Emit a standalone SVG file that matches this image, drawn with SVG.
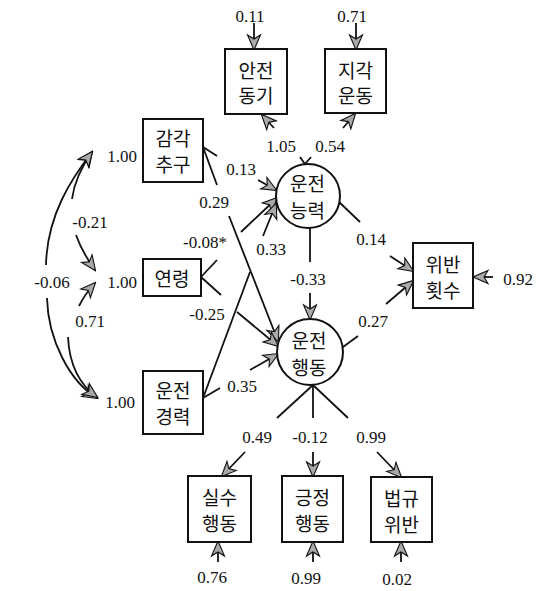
<svg xmlns="http://www.w3.org/2000/svg" width="543" height="591" viewBox="0 0 543 591">
  <defs>
    <style>
      .box{fill:#fff;stroke:#111;stroke-width:2}
      .lat{fill:#fff;stroke:#111;stroke-width:2}
      .kr{font-family:"Noto Sans CJK KR","Noto Sans",sans-serif;font-size:19px;fill:#111;text-anchor:middle;dominant-baseline:central}
      .num{font-family:"Liberation Serif","Times New Roman",serif;font-size:17px;fill:#111;text-anchor:middle}
      .c{fill:none;stroke:#111;stroke-width:1.8}
      .a{marker-end:url(#ah)}
      .s{marker-start:url(#ah)}
    </style>
    <marker id="ah" viewBox="-16 -8 18 16" refX="0" refY="0" markerWidth="18" markerHeight="16" markerUnits="userSpaceOnUse" orient="auto-start-reverse">
      <path d="M1,0 L-14,-6.5 L-10,0 L-14,6.5 Z" fill="#a9a9a9" stroke="#111" stroke-width="1.1"/>
    </marker>
  </defs>

  <rect width="543" height="591" fill="#fff"/>

  <!-- connectors -->
  <g id="connectors">
    <!-- residual arrows, top -->
    <path class="c a" d="M254,23 L254,49"/>
    <path class="c a" d="M356,23 L356,49"/>
    <!-- driving ability to indicators -->
    <path class="c" d="M300,157 L305,164 L311,157"/>
    <path class="c a" d="M274,128 L262,115"/>
    <path class="c a" d="M343,128 L355,114"/>
    <!-- sensation seeking -->
    <path class="c" d="M203,147 L217,156"/>
    <path class="c a" d="M258,180 L276,190"/>
    <path class="c" d="M203,147 L217,185"/>
    <path class="c a" d="M229,216 L278,341"/>
    <!-- age -->
    <path class="c" d="M201,277 L217,260"/>
    <path class="c a" d="M241,232 L277,198"/>
    <path class="c" d="M201,277 L221,295"/>
    <path class="c a" d="M237,312 L278,346"/>
    <!-- driving experience -->
    <path class="c" d="M203,398 L250,272"/>
    <path class="c a" d="M263,236 L276,204"/>
    <path class="c" d="M203,398 L220,388"/>
    <path class="c a" d="M250,370 L278,354"/>
    <!-- ability to behaviour -->
    <path class="c" d="M310,228 L310,262"/>
    <path class="c a" d="M310,293 L310,319"/>
    <!-- to violation count -->
    <path class="c" d="M338,201 L360,222"/>
    <path class="c a" d="M390,256 L413,271"/>
    <path class="c" d="M343,347 L358,336"/>
    <path class="c a" d="M386,304 L413,281"/>
    <path class="c a" d="M493,277 L474,277"/>
    <!-- behaviour to indicators -->
    <path class="c" d="M313,385 L277,418"/>
    <path class="c a" d="M245,452 L222,476"/>
    <path class="c" d="M313,385 L313,418"/>
    <path class="c a" d="M313,452 L313,476"/>
    <path class="c" d="M313,385 L348,418"/>
    <path class="c a" d="M377,452 L401,477"/>
    <!-- residual arrows, bottom -->
    <path class="c a" d="M218,562 L218,542"/>
    <path class="c a" d="M313,562 L313,542"/>
    <path class="c a" d="M401,562 L401,542"/>
    <!-- covariances -->
    <path class="c s" d="M92,152 Q75,176 72,199"/>
    <path class="c a" d="M76,235 Q82,252 95,270"/>
    <path class="c s" d="M92,152 C72,178 47,215 46,265"/>
    <path class="c a" d="M47,298 C48,340 70,382 97,398"/>
    <path class="c s" d="M95,283 Q85,294 79,306"/>
    <path class="c a" d="M68,337 Q70,378 97,397"/>
  </g>

  <!-- path coefficients and variances -->
  <g id="labels">
    <text class="num" x="250" y="22">0.11</text>
    <text class="num" x="352" y="22">0.71</text>
    <text class="num" x="281" y="152">1.05</text>
    <text class="num" x="330" y="152">0.54</text>
    <text class="num" x="241" y="175">0.13</text>
    <text class="num" x="214" y="208">0.29</text>
    <text class="num" x="205" y="248">-0.08*</text>
    <text class="num" x="271" y="255">0.33</text>
    <text class="num" x="308" y="285">-0.33</text>
    <text class="num" x="371" y="245">0.14</text>
    <text class="num" x="373" y="327">0.27</text>
    <text class="num" x="518" y="285">0.92</text>
    <text class="num" x="207" y="320">-0.25</text>
    <text class="num" x="242" y="392">0.35</text>
    <text class="num" x="257" y="443">0.49</text>
    <text class="num" x="310" y="443">-0.12</text>
    <text class="num" x="371" y="443">0.99</text>
    <text class="num" x="212" y="583">0.76</text>
    <text class="num" x="306" y="584">0.99</text>
    <text class="num" x="397" y="585">0.02</text>
    <text class="num" x="122" y="162">1.00</text>
    <text class="num" x="122" y="288">1.00</text>
    <text class="num" x="120" y="408">1.00</text>
    <text class="num" x="90" y="228">-0.21</text>
    <text class="num" x="90" y="327">0.71</text>
    <text class="num" x="52" y="288" text-anchor="end">-0.06</text>
  </g>

  <!-- observed variables -->
  <g id="safety-motive">
    <rect class="box" x="225" y="49" width="62" height="65"/>
    <text class="kr" x="256" y="69">안전</text>
    <text class="kr" x="256" y="94">동기</text>
  </g>
  <g id="perceptual-motor">
    <rect class="box" x="325" y="49" width="61" height="64"/>
    <text class="kr" x="355.5" y="69">지각</text>
    <text class="kr" x="355.5" y="94">운동</text>
  </g>
  <g id="sensation-seeking">
    <rect class="box" x="143" y="119" width="60" height="63"/>
    <text class="kr" x="173" y="137">감각</text>
    <text class="kr" x="173" y="163">추구</text>
  </g>
  <g id="age">
    <rect class="box" x="143" y="259" width="58" height="37"/>
    <text class="kr" x="172" y="277">연령</text>
  </g>
  <g id="driving-experience">
    <rect class="box" x="143" y="371" width="60" height="63"/>
    <text class="kr" x="173" y="389">운전</text>
    <text class="kr" x="173" y="415">경력</text>
  </g>
  <g id="violation-count">
    <rect class="box" x="413" y="243" width="60" height="65"/>
    <text class="kr" x="443" y="263">위반</text>
    <text class="kr" x="443" y="289">횟수</text>
  </g>
  <g id="error-behaviour">
    <rect class="box" x="188" y="476" width="63" height="66"/>
    <text class="kr" x="219.5" y="496">실수</text>
    <text class="kr" x="219.5" y="522">행동</text>
  </g>
  <g id="positive-behaviour">
    <rect class="box" x="282" y="476" width="61" height="66"/>
    <text class="kr" x="312.5" y="496">긍정</text>
    <text class="kr" x="312.5" y="522">행동</text>
  </g>
  <g id="law-violation">
    <rect class="box" x="371" y="477" width="61" height="65"/>
    <text class="kr" x="401.5" y="497">법규</text>
    <text class="kr" x="401.5" y="523">위반</text>
  </g>

  <!-- latent variables -->
  <g id="driving-ability">
    <circle class="lat" cx="308" cy="196" r="32"/>
    <text class="kr" x="307.5" y="182">운전</text>
    <text class="kr" x="307.5" y="209">능력</text>
  </g>
  <g id="driving-behaviour">
    <circle class="lat" cx="310" cy="352" r="33"/>
    <text class="kr" x="309" y="339">운전</text>
    <text class="kr" x="309" y="366">행동</text>
  </g>
</svg>
